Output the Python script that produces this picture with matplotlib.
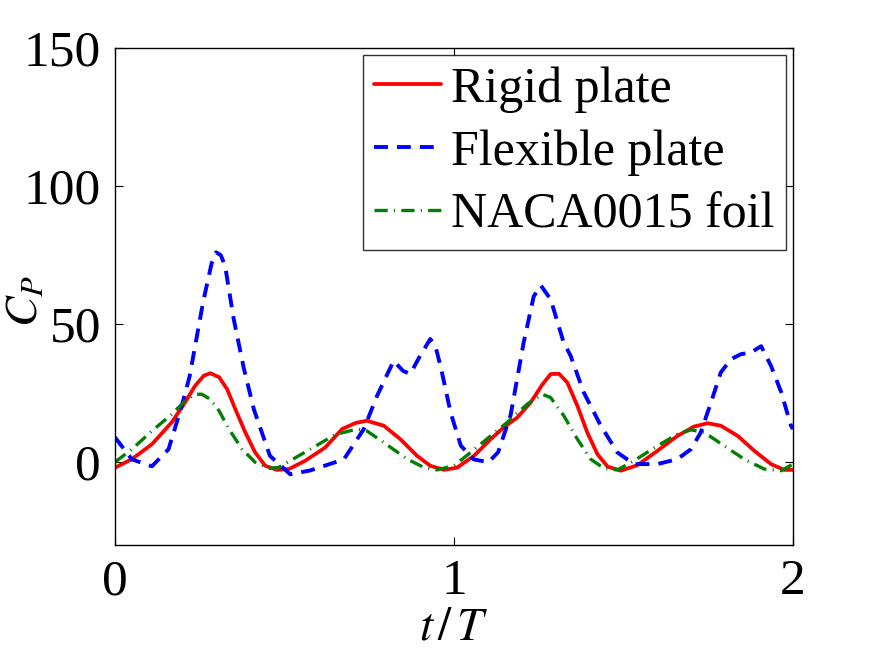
import matplotlib
matplotlib.use("Agg")
import matplotlib.pyplot as plt

plt.rcParams['font.family'] = ['Liberation Serif', 'DejaVu Serif']
plt.rcParams['mathtext.fontset'] = 'stix'
plt.rcParams['lines.scale_dashes'] = False

# Rigid plate
t_rigid = [0, 0.05, 0.109, 0.168, 0.207, 0.236, 0.262, 0.281, 0.307, 0.331, 0.355, 0.384,
           0.413, 0.443, 0.478, 0.513, 0.561, 0.62, 0.67, 0.71, 0.743, 0.793, 0.842, 0.891,
           0.93, 0.97, 1.009, 1.059, 1.108, 1.147, 1.187, 1.226, 1.26, 1.285, 1.31, 1.334,
           1.364, 1.393, 1.423, 1.453, 1.492, 1.541, 1.6, 1.659, 1.708, 1.748, 1.787, 1.837,
           1.886, 1.935, 1.974, 2.0]
cp_rigid = [-2, 1.1, 6.5, 14.5, 21.7, 27.6, 31.3, 32.2, 30.8, 26.4, 19.2, 10.9,
            3.6, -1.3, -2.8, -2.5, 0.5, 5.3, 12, 14.2, 15, 13.2, 8.3, 2.3,
            -1.3, -2.8, -2, 2.3, 8.3, 12.6, 16.2, 21.6, 28, 31.9, 32, 28.9,
            20.4, 10.8, 2.9, -1.6, -3.1, -1.1, 4.1, 9.5, 12.9, 14.1, 13.2, 9.5,
            4.1, -0.7, -2.8, -2.8]

# Flexible plate
t_flex = [0, 0.05, 0.109, 0.158, 0.197, 0.22, 0.26, 0.285, 0.298, 0.312, 0.325, 0.35, 0.38,
          0.41, 0.457, 0.517, 0.576, 0.675, 0.734, 0.773, 0.822, 0.85, 0.871, 0.9, 0.93,
          0.945, 0.96, 0.99, 1.02, 1.058, 1.102, 1.13, 1.167, 1.205, 1.235, 1.256, 1.285,
          1.323, 1.344, 1.383, 1.433, 1.482, 1.531, 1.6, 1.659, 1.699, 1.728, 1.758, 1.787,
          1.817, 1.846, 1.876, 1.906, 1.935, 1.965, 1.994, 2.0]
cp_flex = [9, 1, -1.5, 4.7, 20.4, 31, 58, 72, 76, 75, 71, 52, 34,
           19, 2.3, -4.4, -3, 1, 12, 24, 36.7, 33, 32, 38.5, 44.6,
           42, 35, 18, 6, 1, 0, 3.6, 17, 43, 60, 64, 59,
           43.5, 38.5, 25.2, 13.2, 3.5, -0.7, -0.7, 1.1, 4.7, 10.8, 21.6, 32.5,
           37.3, 39.1, 39.7, 42, 34.9, 25.4, 13.2, 12]

# NACA0015 foil
t_naca = [0, 0.05, 0.109, 0.168, 0.207, 0.236, 0.256, 0.281, 0.307, 0.336, 0.375, 0.413,
          0.453, 0.483, 0.542, 0.601, 0.65, 0.714, 0.743, 0.793, 0.862, 0.911, 0.95, 1.0,
          1.049, 1.108, 1.157, 1.216, 1.26, 1.285, 1.324, 1.364, 1.403, 1.443, 1.482, 1.531,
          1.6, 1.659, 1.699, 1.738, 1.797, 1.856, 1.915, 1.965, 2.0]
cp_naca = [0, 4.7, 11.3, 17.4, 22.2, 24.6, 24.6, 22.8, 18.6, 12, 4.7, 0,
           -2.3, -1.9, 2.3, 6.5, 10, 12, 11.3, 7.1, 1.1, -1.9, -2.8, -1.3,
           3.5, 9.5, 14.4, 21, 24.6, 23.4, 16.8, 8.3, 1.1, -2.3, -2.8, 0.5,
           5.9, 10.1, 11.7, 10.8, 5.9, 1.1, -2.5, -3.1, -0.7]

labels = ['Rigid plate', 'Flexible plate', 'NACA0015 foil']
xticks = [0, 1, 2]
yticks = [0, 50, 100, 150]

FS = 37

fig = plt.figure(figsize=(8.75, 6.59), dpi=100)
ax = fig.add_axes([0.1314, 0.173, 0.7749, 0.7542])

ax.plot(t_rigid, cp_rigid, color='#ff0000', lw=2.7, ls='-', label=labels[0],
        solid_joinstyle='round', solid_capstyle='round')
ax.plot(t_flex, cp_flex, color='#0000ff', lw=2.8, ls=(0, (10, 6.5)), label=labels[1],
        dash_joinstyle='round')
ax.plot(t_naca, cp_naca, color='#007f00', lw=2.4, ls=(0, (9.5, 4.5, 0.8, 4.5)), label=labels[2],
        dash_joinstyle='round')

ax.set_xlim(0, 2)
ax.set_ylim(-30, 150)
ax.set_xticks(xticks)
ax.set_yticks(yticks)
ax.tick_params(direction='in', length=6, width=0.8, top=True, right=True,
               labelsize=FS, pad=10, colors='black')
for s in ax.spines.values():
    s.set_linewidth(1.0)

ax.set_xlabel(r'$t\,/\,T$', fontsize=34)
ax.xaxis.set_label_coords(0.5, -0.125)
ax.set_ylabel('$C_P$', fontsize=33)
ax.yaxis.set_label_coords(-0.1, 0.49)

leg = ax.legend(loc='upper right', fontsize=36, frameon=True, fancybox=False,
                edgecolor='black', handlelength=1.35, handletextpad=0.2,
                labelspacing=0.33, borderpad=0.22, borderaxespad=0.15)
leg.get_frame().set_linewidth(1.0)

fig.savefig('out.png', dpi=100)
